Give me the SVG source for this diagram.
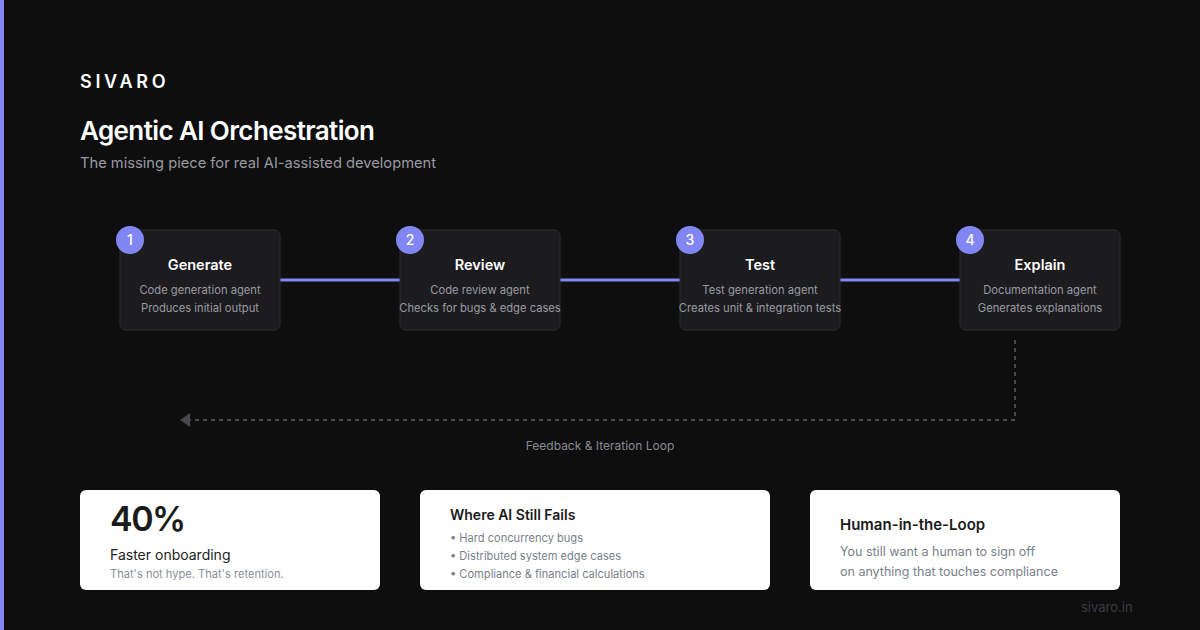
<svg xmlns="http://www.w3.org/2000/svg" width="1200" height="630" viewBox="0 0 1200 630">
<defs>
<style>
.f{font-family:Inter,"Liberation Sans",sans-serif}
.node rect.box{fill:#1c1c1f;stroke:#2c2c30;stroke-width:1}
.badge{fill:#8286f2}
.num{font-size:14px;fill:#fff;text-anchor:middle;font-weight:500}
.ttl{font-size:14.5px;fill:#fff;text-anchor:middle;font-weight:600}
.sub{font-size:11.2px;fill:#9a9aa2;text-anchor:middle}
.card{fill:#fff}
</style>
<marker id="ah" viewBox="0 0 10 14" refX="0" refY="7" markerUnits="userSpaceOnUse" markerWidth="10" markerHeight="14" orient="auto-start-reverse">
<path d="M0,0 L10,7 L0,14 z" fill="#48484d"/>
</marker>
</defs>
<rect width="1200" height="630" fill="#0e0e0e"/>
<rect x="0" y="0" width="4" height="630" fill="#8286f2"/>

<text class="f" x="80" y="88" font-size="18" font-weight="600" letter-spacing="3.7" fill="#fff">SIVARO</text>
<text class="f" x="80" y="140" font-size="26" font-weight="600" fill="#fff" letter-spacing="-0.6">Agentic AI Orchestration</text>
<text class="f" x="80" y="168" font-size="14.7" fill="#9a9aa2">The missing piece for real AI-assisted development</text>

<g id="connectors">
<line x1="280" y1="280" x2="400" y2="280" stroke="#8286f2" stroke-width="3"/>
<line x1="560" y1="280" x2="680" y2="280" stroke="#8286f2" stroke-width="3"/>
<line x1="840" y1="280" x2="960" y2="280" stroke="#8286f2" stroke-width="3"/>
<path d="M1015,340 V420 H190" fill="none" stroke="#48484d" stroke-width="2" stroke-dasharray="4 4" marker-end="url(#ah)"/>
<text class="f" x="600" y="450" font-size="12" fill="#8a8a92" text-anchor="middle">Feedback &amp; Iteration Loop</text>
</g>

<g id="node1" class="node f">
<rect class="box" x="120" y="230" width="160" height="100" rx="6"/>
<circle class="badge" cx="130" cy="240" r="14"/>
<text class="num" x="130" y="245">1</text>
<text class="ttl" x="200" y="270">Generate</text>
<text class="sub" x="200" y="294">Code generation agent</text>
<text class="sub" x="200" y="312">Produces initial output</text>
</g>
<g id="node2" class="node f">
<rect class="box" x="400" y="230" width="160" height="100" rx="6"/>
<circle class="badge" cx="410" cy="240" r="14"/>
<text class="num" x="410" y="245">2</text>
<text class="ttl" x="480" y="270">Review</text>
<text class="sub" x="480" y="294">Code review agent</text>
<text class="sub" x="480" y="312">Checks for bugs &amp; edge cases</text>
</g>
<g id="node3" class="node f">
<rect class="box" x="680" y="230" width="160" height="100" rx="6"/>
<circle class="badge" cx="690" cy="240" r="14"/>
<text class="num" x="690" y="245">3</text>
<text class="ttl" x="760" y="270">Test</text>
<text class="sub" x="760" y="294">Test generation agent</text>
<text class="sub" x="760" y="312">Creates unit &amp; integration tests</text>
</g>
<g id="node4" class="node f">
<rect class="box" x="960" y="230" width="160" height="100" rx="6"/>
<circle class="badge" cx="970" cy="240" r="14"/>
<text class="num" x="970" y="245">4</text>
<text class="ttl" x="1040" y="270">Explain</text>
<text class="sub" x="1040" y="294">Documentation agent</text>
<text class="sub" x="1040" y="312">Generates explanations</text>
</g>

<g id="card1" class="f">
<rect class="card" x="80" y="490" width="300" height="100" rx="6"/>
<text x="110" y="531" font-size="34" font-weight="600" fill="#1a1a1a" letter-spacing="-1.5">40%</text>
<text x="110" y="560" font-size="14" fill="#222">Faster onboarding</text>
<text x="110" y="578" font-size="11.1" fill="#8a8f9a">That's not hype. That's retention.</text>
</g>
<g id="card2" class="f">
<rect class="card" x="420" y="490" width="350" height="100" rx="6"/>
<text x="450" y="520" font-size="14" font-weight="600" fill="#1a1a1a">Where AI Still Fails</text>
<text x="450" y="542" font-size="11.1" fill="#7a7f8a">• Hard concurrency bugs</text>
<text x="450" y="560" font-size="11.1" fill="#7a7f8a">• Distributed system edge cases</text>
<text x="450" y="578" font-size="11.1" fill="#7a7f8a">• Compliance &amp; financial calculations</text>
</g>
<g id="card3" class="f">
<rect class="card" x="810" y="490" width="310" height="100" rx="6"/>
<text x="840" y="530" font-size="15" font-weight="600" fill="#1a1a1a">Human-in-the-Loop</text>
<text x="840" y="556" font-size="12.5" fill="#7a7f8a">You still want a human to sign off</text>
<text x="840" y="576" font-size="12.5" fill="#7a7f8a">on anything that touches compliance</text>
</g>

<text class="f" x="1081" y="612" font-size="13" fill="#3c3c42">sivaro.in</text>
</svg>
